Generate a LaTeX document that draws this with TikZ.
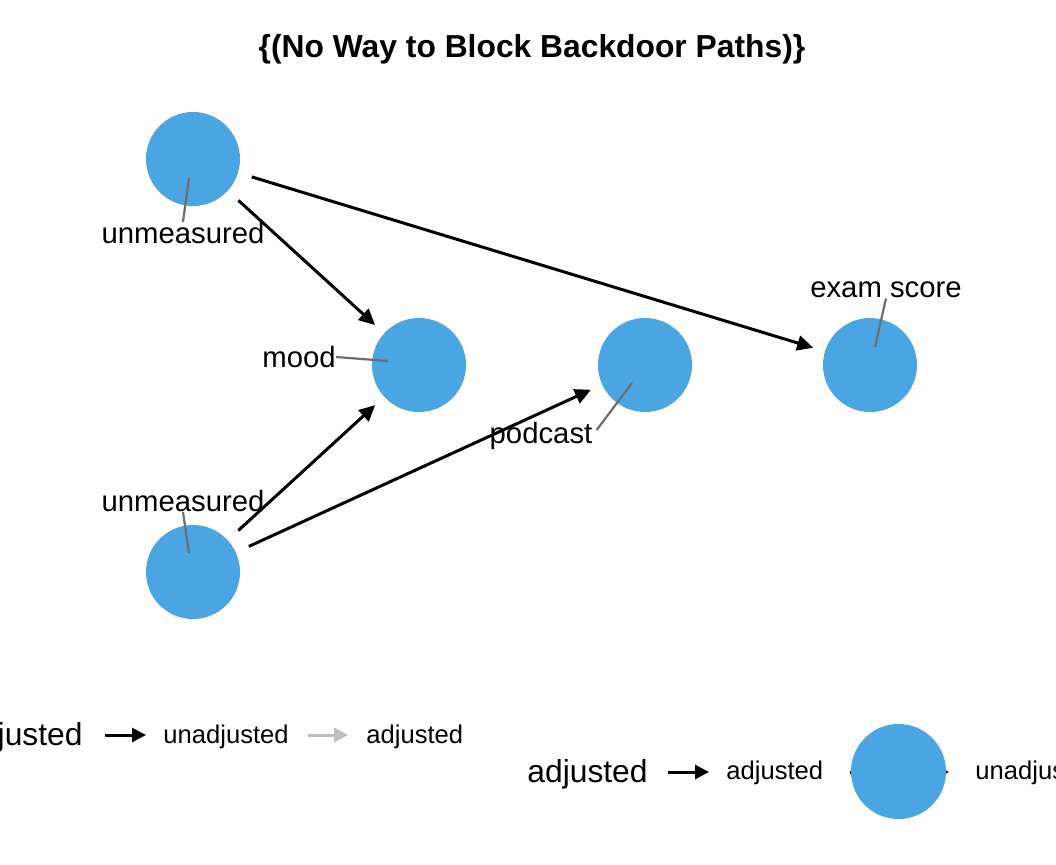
\documentclass[tikz,border=0pt]{standalone}
\usepackage{fontspec}
\setmainfont{Liberation Sans}
\usetikzlibrary{arrows.meta}
\definecolor{nodeblue}{RGB}{74,165,226}
\definecolor{leadergray}{RGB}{110,110,110}
\definecolor{keygray}{RGB}{190,190,190}
\begin{document}
\begin{tikzpicture}[x=0.5pt,y=-0.5pt,
    dagnode/.style={circle,fill=nodeblue,minimum size=47pt,inner sep=0pt},
    lbl/.style={inner sep=0pt,font=\fontsize{14.65}{16}\selectfont},
    legbig/.style={inner sep=0pt,font=\fontsize{15.9}{18}\selectfont},
    legsmall/.style={inner sep=0pt,font=\fontsize{12.8}{15}\selectfont},
    leader/.style={draw=leadergray,line width=1.1pt},
    edge/.style={line width=1.5pt,-{Triangle[length=8pt,width=7.5pt]},shorten <=7pt,shorten >=6pt},
    keyarrow/.style={line width=1.5pt,-{Triangle[length=7pt,width=7pt]}}]
    \useasboundingbox (0,0) rectangle (1056,864);
    \clip (0,0) rectangle (1056,864);
    \node[font=\bfseries\fontsize{15.9}{18}\selectfont] (title) at (532,49) {\{(No Way to Block Backdoor Paths)\}};
    % dag nodes
    \node[dagnode] (u1) at (193,159) {};
    \node[dagnode] (mood) at (419,365) {};
    \node[dagnode] (podcast) at (645,365) {};
    \node[dagnode] (exam) at (870,365) {};
    \node[dagnode] (u2) at (193,572) {};
    % edges
    \draw[edge] (u1) -- (mood);
    \draw[edge] (u1) -- (exam);
    \draw[edge] (u2) -- (mood);
    \draw[edge] (u2) -- (podcast);
    % labels
    \node[lbl] (u1lbl) at (183,233) {unmeasured};
    \node[lbl] (moodlbl) at (299,357) {mood};
    \node[lbl] (podlbl) at (541,436) {podcast};
    \node[lbl] (examlbl) at (886,290) {exam score};
    \node[lbl] (u2lbl) at (183,501) {unmeasured};
    \coordinate (u1pin) at (189,178);
    \coordinate (moodpin) at (388,361);
    \coordinate (podpin) at (632,383);
    \coordinate (exampin) at (875,347);
    \coordinate (u2pin) at (189,553);
    \draw[leader] (u1pin) -- (u1lbl.north);
    \draw[leader] (moodpin) -- (moodlbl.east);
    \draw[leader] (podpin) -- ([xshift=2pt,yshift=3pt]podlbl.east);
    \draw[leader] (exampin) -- (examlbl.south);
    \draw[leader] (u2pin) -- (u2lbl.south);
    % legend 1
    \node[legbig,anchor=east] (leg1) at (83,737) {adjusted};
    \coordinate (k1a) at (105,735);
    \coordinate (k1b) at (146,735);
    \draw[keyarrow] (k1a) -- (k1b);
    \node[legsmall,anchor=west] (leg1a) at (163,737) {unadjusted};
    \coordinate (k2a) at (308,735);
    \coordinate (k2b) at (348,735);
    \draw[keyarrow,keygray] (k2a) -- (k2b);
    \node[legsmall,anchor=west] (leg1b) at (366,737) {adjusted};
    % legend 2
    \node[legbig,anchor=west] (leg2) at (527,774) {adjusted};
    \coordinate (k3a) at (668,772);
    \coordinate (k3b) at (709,772);
    \draw[keyarrow] (k3a) -- (k3b);
    \node[legsmall,anchor=west] (leg2a) at (726,773) {adjusted};
    \coordinate (k4a) at (850,772);
    \coordinate (k4b) at (949,772);
    \draw[keyarrow] (k4a) -- (k4b);
    \node[dagnode,minimum size=47.5pt] (legdot) at (898.5,771.5) {};
    \node[legsmall,anchor=west] (leg2b) at (975,773) {unadjusted};
\end{tikzpicture}
\end{document}
